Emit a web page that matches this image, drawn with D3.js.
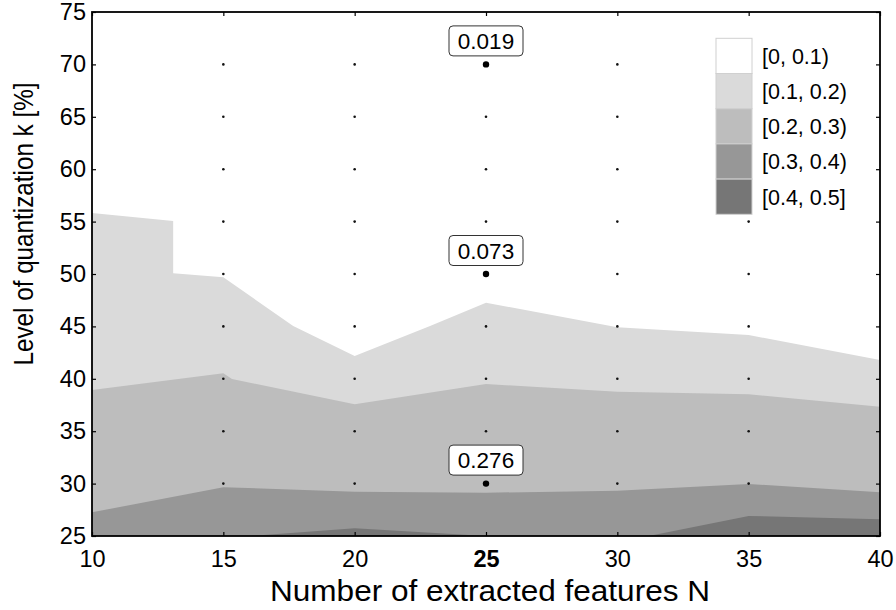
<!DOCTYPE html>
<html>
<head>
<meta charset="utf-8">
<script src="https://cdn.jsdelivr.net/npm/d3@7"></script>
<style>
  html, body { margin: 0; padding: 0; background: #fff; }
  svg { display: block; font-family: "Liberation Sans", Arial, sans-serif; }
</style>
</head>
<body>
<svg id="chart" width="896" height="610"></svg>
<script>
// Contour boundaries of the error level over (N, k)
const b01N = [10, 13.09, 13.09, 15, 17.66, 20, 22.87, 25, 30, 35, 40];
const b01K = [55.82, 55.06, 50.07, 49.68, 45.04, 42.18, 45.04, 47.26, 44.91, 44.18, 41.79];

const b02N = [10, 15, 15.33, 20, 25, 30, 35, 40];
const b02K = [38.93, 40.52, 39.98, 37.57, 39.5, 38.77, 38.52, 37.34];

const b03N = [10, 15, 20, 25, 30, 35, 40];
const b03K = [27.26, 29.65, 29.23, 29.13, 29.32, 29.96, 29.17];

const b04N = [10, 15, 20, 25, 30, 35, 40];
const b04K = [24.6, 24.8, 25.75, 25.0, 24.4, 26.91, 26.59];

// Legend classes
const levelLabels = ["[0, 0.1)", "[0.1, 0.2)", "[0.2, 0.3)", "[0.3, 0.4)", "[0.4, 0.5]"];
const levelColors = ["#ffffff", "#dadada", "#bdbdbd", "#979797", "#767676"];

// Axis ticks
const xTicks = [10, 15, 20, 25, 30, 35, 40];
const yTicks = [25, 30, 35, 40, 45, 50, 55, 60, 65, 70, 75];

// Annotated sample points at N = 25
const markN = [25, 25, 25];
const markK = [70, 50, 30];
const markVal = ["0.019", "0.073", "0.276"];

const svg = d3.select("#chart");
const pLeft = 92, pRight = 880, pTop = 12, pBottom = 536;

const x = d3.scaleLinear().domain([10, 40]).range([pLeft, pRight]);
const y = d3.scaleLinear().domain([25, 75]).range([pBottom, pTop]);

svg.append("defs").append("clipPath").attr("id", "plotClip")
  .append("rect").attr("x", pLeft).attr("y", pTop)
  .attr("width", pRight - pLeft).attr("height", pBottom - pTop);

const plot = svg.append("g").attr("clip-path", "url(#plotClip)");
plot.append("rect").attr("x", pLeft).attr("y", pTop)
  .attr("width", pRight - pLeft).attr("height", pBottom - pTop).attr("fill", levelColors[0]);

// Each band is drawn as the area under its lower boundary, lightest first
const bounds = [[b01N, b01K], [b02N, b02K], [b03N, b03K], [b04N, b04K]];
const area = d3.area().x(d => x(d[0])).y1(d => y(d[1])).y0(y(20));
bounds.forEach((b, i) => {
  const pts = b[0].map((n, j) => [n, b[1][j]]);
  plot.append("path").datum(pts).attr("d", area).attr("fill", levelColors[i + 1]);
});

// Dotted grid: dots at tick intersections
const gridN = xTicks.slice(1, -1);
const gridK = yTicks.slice(1, -1);
const gridPts = [];
gridN.forEach(n => gridK.forEach(k => gridPts.push([n, k])));
svg.append("g").selectAll("circle").data(gridPts).join("circle")
  .attr("cx", d => x(d[0])).attr("cy", d => y(d[1])).attr("r", 1.3).attr("fill", "#111");

// Axes with inward ticks on all four sides
const axisFont = 23.5;
const xAxis = svg.append("g").attr("transform", `translate(0,${pBottom})`)
  .call(d3.axisBottom(x).tickValues(xTicks).tickSize(-4).tickPadding(14));
const yAxis = svg.append("g").attr("transform", `translate(${pLeft},0)`)
  .call(d3.axisLeft(y).tickValues(yTicks).tickSize(-4).tickPadding(6));
svg.append("g").attr("transform", `translate(0,${pTop})`)
  .call(d3.axisTop(x).tickValues(xTicks).tickSize(-4).tickFormat(""));
svg.append("g").attr("transform", `translate(${pRight},0)`)
  .call(d3.axisRight(y).tickValues(yTicks).tickSize(-4).tickFormat(""));

svg.selectAll(".domain").remove();
svg.selectAll(".tick line").attr("stroke", "#000").attr("stroke-width", 1.2);
xAxis.selectAll("text").attr("font-size", axisFont).attr("fill", "#000")
  .attr("font-weight", d => d === 25 ? "bold" : "normal");
yAxis.selectAll("text").attr("font-size", axisFont).attr("fill", "#000");

svg.append("rect").attr("x", pLeft).attr("y", pTop)
  .attr("width", pRight - pLeft).attr("height", pBottom - pTop)
  .attr("fill", "none").attr("stroke", "#000").attr("stroke-width", 1.8);

// Axis titles
svg.append("text").attr("x", 490).attr("y", 601).attr("text-anchor", "middle")
  .attr("font-size", 30).attr("fill", "#000")
  .attr("textLength", 440).attr("lengthAdjust", "spacingAndGlyphs")
  .text("Number of extracted features N");
svg.append("text").attr("transform", "translate(33,224) rotate(-90)")
  .attr("text-anchor", "middle").attr("font-size", 28).attr("fill", "#000")
  .attr("textLength", 283).attr("lengthAdjust", "spacingAndGlyphs")
  .text("Level of quantization k [%]");

// Legend
const lg = svg.append("g");
const swH = 35.2, swX = 716, swY = 38.3, swW = 36;
levelLabels.forEach((lab, i) => {
  lg.append("rect").attr("x", swX).attr("y", swY + i * swH)
    .attr("width", swW).attr("height", swH)
    .attr("fill", levelColors[i]).attr("stroke", "#d0d0d0").attr("stroke-width", 1);
  lg.append("text").attr("x", 762).attr("y", swY + i * swH + swH / 2 + 7.8)
    .attr("font-size", 21.5).attr("fill", "#000").text(lab);
});

// Annotated points with value boxes
const marks = markN.map((n, i) => ({ n, k: markK[i], v: markVal[i] }));
const mg = svg.append("g").selectAll("g").data(marks).join("g");
mg.append("circle").attr("cx", d => x(d.n)).attr("cy", d => y(d.k)).attr("r", 3.2).attr("fill", "#000");
mg.append("rect").attr("x", d => x(d.n) - 37).attr("y", d => y(d.k) - 38.5)
  .attr("width", 74).attr("height", 30).attr("rx", 4)
  .attr("fill", "#fff").attr("stroke", "#333").attr("stroke-width", 1);
mg.append("text").attr("x", d => x(d.n)).attr("y", d => y(d.k) - 15.5)
  .attr("text-anchor", "middle").attr("font-size", 22.5).attr("fill", "#000").text(d => d.v);
</script>
</body>
</html>
